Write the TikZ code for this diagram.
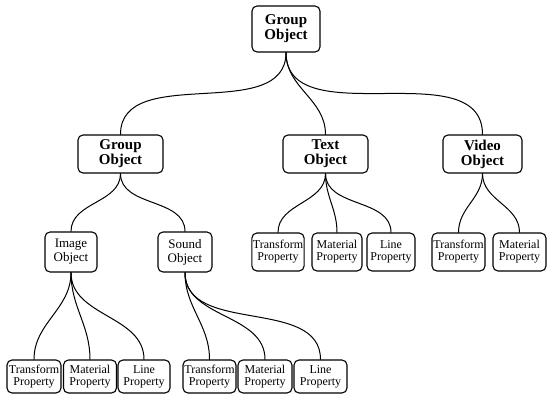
\documentclass[tikz,border=0pt]{standalone}
\usepackage{fontspec}
\setmainfont{Liberation Serif}
\usetikzlibrary{positioning}

\begin{document}
\begin{tikzpicture}[x=1pt,y=-1pt]
\tikzset{
  objnode/.style={rectangle,rounded corners=5pt,draw=black,line width=1.1pt,align=center,inner sep=1pt,font=\bfseries\fontsize{15}{15}\selectfont},
  mediannode/.style={objnode,font=\fontsize{13}{14}\selectfont},
  propnode/.style={objnode,font=\fontsize{12}{12}\selectfont},
  treeedge/.style={draw=black,line width=1pt,line cap=round,out=-90,in=90}
}
\useasboundingbox (0,0) rectangle (547,394);
% level 0 and 1
\node[objnode,minimum width=68pt,minimum height=46pt] (n_root) at (286,29) {Group\\Object};
\node[objnode,minimum width=85pt,minimum height=38pt] (n_group) at (120.5,154) {Group\\Object};
\node[objnode,minimum width=85pt,minimum height=38pt] (n_text) at (325.5,154) {Text\\Object};
\node[objnode,minimum width=79pt,minimum height=38pt] (n_video) at (482.5,154) {Video\\Object};
% level 2
\node[mediannode,minimum width=52pt,minimum height=40pt] (n_image) at (71,252) {Image\\Object};
\node[mediannode,minimum width=54pt,minimum height=40pt] (n_sound) at (185,252) {Sound\\Object};
\node[propnode,minimum width=50pt,minimum height=38pt] (n_textT) at (278,252) {Transform\\Property};
\node[propnode,minimum width=50pt,minimum height=38pt] (n_textM) at (337,252) {Material\\Property};
\node[propnode,minimum width=48pt,minimum height=38pt] (n_textL) at (391,252) {Line\\Property};
\node[propnode,minimum width=53pt,minimum height=38pt] (n_videoT) at (458.5,252) {Transform\\Property};
\node[propnode,minimum width=53pt,minimum height=38pt] (n_videoM) at (519.5,252) {Material\\Property};
% level 3
\node[propnode,minimum width=54pt,minimum height=33pt] (n_imageT) at (34,376.5) {Transform\\Property};
\node[propnode,minimum width=53pt,minimum height=33pt] (n_imageM) at (90,376.5) {Material\\Property};
\node[propnode,minimum width=52pt,minimum height=33pt] (n_imageL) at (144,376.5) {Line\\Property};
\node[propnode,minimum width=53pt,minimum height=33pt] (n_soundT) at (209.5,376.5) {Transform\\Property};
\node[propnode,minimum width=54pt,minimum height=33pt] (n_soundM) at (265,376.5) {Material\\Property};
\node[propnode,minimum width=53pt,minimum height=33pt] (n_soundL) at (320.5,376.5) {Line\\Property};
% connectors
\draw[treeedge] (n_root.south) to (n_group.north);
\draw[treeedge] (n_root.south) to (n_text.north);
\draw[treeedge] (n_root.south) to (n_video.north);
\draw[treeedge] (n_group.south) to (n_image.north);
\draw[treeedge] (n_group.south) to (n_sound.north);
\draw[treeedge] (n_text.south) to (n_textT.north);
\draw[treeedge] (n_text.south) to (n_textM.north);
\draw[treeedge] (n_text.south) to (n_textL.north);
\draw[treeedge] (n_video.south) to (n_videoT.north);
\draw[treeedge] (n_video.south) to (n_videoM.north);
\draw[treeedge] (n_image.south) to (n_imageT.north);
\draw[treeedge] (n_image.south) to (n_imageM.north);
\draw[treeedge] (n_image.south) to (n_imageL.north);
\draw[treeedge] (n_sound.south) to (n_soundT.north);
\draw[treeedge] (n_sound.south) to (n_soundM.north);
\draw[treeedge] (n_sound.south) to (n_soundL.north);
\end{tikzpicture}
\end{document}
